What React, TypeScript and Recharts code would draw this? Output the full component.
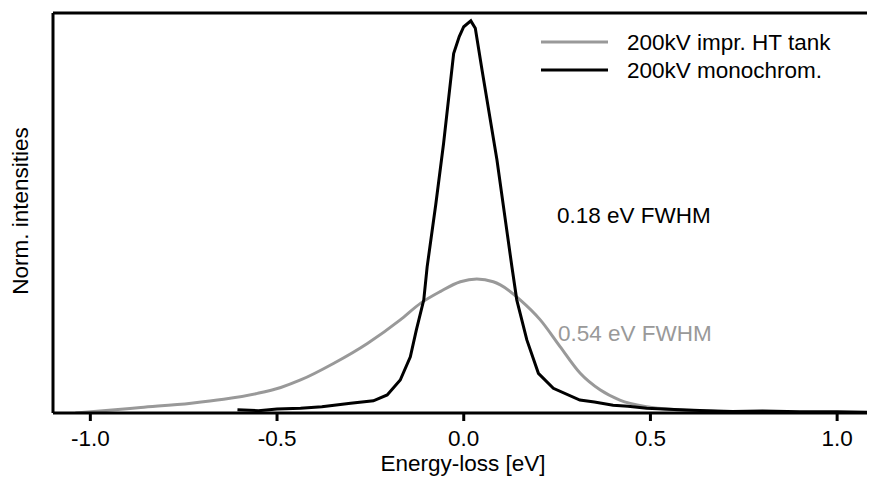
import { LineChart, Line, XAxis, YAxis, ReferenceLine, Customized } from 'recharts';

// energy loss (eV) and normalized intensity
const htTankX = [-1.04, -0.95, -0.865, -0.73, -0.643, -0.552, -0.49, -0.437, -0.349, -0.258, -0.17, -0.116, -0.063, -0.009, 0.035, 0.079, 0.098, 0.151, 0.205, 0.258, 0.312, 0.365, 0.418, 0.49, 0.579, 0.68, 0.8, 1.0, 1.08];
const htTankY = [0.0, 0.007, 0.014, 0.025, 0.035, 0.05, 0.065, 0.084, 0.126, 0.177, 0.237, 0.279, 0.309, 0.334, 0.341, 0.334, 0.326, 0.288, 0.237, 0.169, 0.101, 0.059, 0.033, 0.016, 0.008, 0.004, 0.002, 0.001, 0.001];

const monoX = [-0.606, -0.55, -0.5, -0.437, -0.38, -0.303, -0.242, -0.205, -0.17, -0.143, -0.127, -0.107, -0.098, -0.075, -0.054, -0.027, -0.012, 0.0, 0.019, 0.031, 0.049, 0.089, 0.129, 0.142, 0.169, 0.2, 0.24, 0.311, 0.35, 0.4, 0.44, 0.49, 0.579, 0.65, 0.72, 0.8, 0.9, 1.0, 1.08];
const monoY = [0.008, 0.006, 0.01, 0.012, 0.016, 0.025, 0.031, 0.046, 0.084, 0.143, 0.211, 0.288, 0.372, 0.53, 0.686, 0.915, 0.958, 0.983, 0.998, 0.979, 0.873, 0.644, 0.372, 0.288, 0.186, 0.101, 0.063, 0.033, 0.028, 0.02, 0.017, 0.012, 0.008, 0.006, 0.004, 0.005, 0.003, 0.003, 0.002];

const xTicks = [-1.0, -0.5, 0.0, 0.5, 1.0];
const yTop = 1.018;

const htTank = htTankX.map((x, i) => ({ x, y: htTankY[i] }));
const mono = monoX.map((x, i) => ({ x, y: monoY[i] }));

const GRAY = '#999999';
const FONT = '"Liberation Sans", Arial, sans-serif';
const FS = 22.5;

const legendItems = [
  { label: '200kV impr. HT tank', color: GRAY },
  { label: '200kV monochrom.', color: '#000' },
];

function Annotations() {
  return (
    <g fontFamily={FONT} fontSize={FS}>
      {legendItems.map((item, i) => (
        <g key={item.label}>
          <line x1={541} x2={608} y1={42 + i * 28} y2={42 + i * 28} stroke={item.color} strokeWidth={3} />
          <text x={627} y={50 + i * 28} fill="#000">{item.label}</text>
        </g>
      ))}
      <text x={557} y={223} fill="#000">0.18 eV FWHM</text>
      <text x={558} y={341} fill={GRAY}>0.54 eV FWHM</text>
      <text x={463} y={471} textAnchor="middle" fill="#000">Energy-loss [eV]</text>
      <text x={28} y={211} textAnchor="middle" fill="#000" transform="rotate(-90 28 211)">Norm. intensities</text>
    </g>
  );
}

export default function App() {
  return (
    <div style={{ position: 'absolute', left: 0, top: 0, background: '#fff' }}>
      <LineChart width={870} height={477} margin={{ top: 13, right: 3, left: 0, bottom: 0 }}>
        <XAxis
          dataKey="x"
          type="number"
          domain={[-1.1, 1.08]}
          ticks={xTicks}
          tickFormatter={(v: number) => v.toFixed(1)}
          allowDataOverflow
          height={64}
          axisLine={{ stroke: '#000', strokeWidth: 3 }}
          tickLine={{ stroke: '#000', strokeWidth: 3 }}
          tickSize={8}
          tickMargin={9}
          tick={{ fill: '#000', fontSize: FS, fontFamily: FONT }}
        />
        <YAxis
          type="number"
          domain={[0, yTop]}
          width={53}
          tick={false}
          tickLine={false}
          allowDataOverflow
          axisLine={{ stroke: '#000', strokeWidth: 3 }}
        />
        <ReferenceLine y={yTop} stroke="#000" strokeWidth={3} ifOverflow="visible" />
        <Line
          data={htTank}
          dataKey="y"
          type="monotone"
          stroke={GRAY}
          strokeWidth={3}
          dot={false}
          isAnimationActive={false}
        />
        <Line
          data={mono}
          dataKey="y"
          type="linear"
          stroke="#000"
          strokeWidth={3}
          dot={false}
          isAnimationActive={false}
        />
        <Customized component={Annotations} />
      </LineChart>
    </div>
  );
}
